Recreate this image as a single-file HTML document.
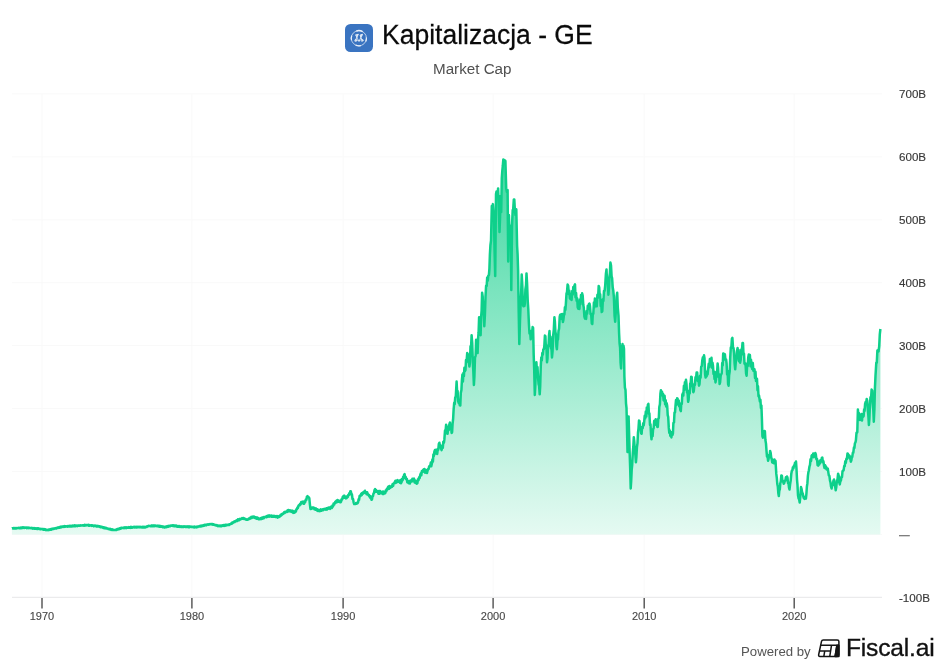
<!DOCTYPE html>
<html><head><meta charset="utf-8"><style>
html,body{margin:0;padding:0;background:#fff;width:945px;height:670px;overflow:hidden}
body{font-family:"Liberation Sans",sans-serif;position:relative}
.title{position:absolute;left:381.7px;top:17.6px;font-size:26.5px;transform:scaleY(1.045);transform-origin:0 26.2px;color:#0a0a0a;-webkit-text-stroke:0.25px #0a0a0a;white-space:nowrap;line-height:34px}
.sub{position:absolute;left:433px;top:59px;font-size:15.2px;color:#505050;white-space:nowrap;line-height:20px}
.logo{position:absolute;left:345.2px;top:23.6px;width:28px;height:28px;border-radius:5.5px;background:#3a74c1}
svg{position:absolute;left:0;top:0;will-change:transform}
.title,.sub,.pow,.fis{will-change:transform}
.pow{position:absolute;left:740.5px;top:642.6px;font-size:13.2px;color:#555;white-space:nowrap;line-height:18px}
.fis{position:absolute;left:845.8px;top:633.3px;font-size:24.6px;color:#111;white-space:nowrap;line-height:30px;letter-spacing:-0.2px;-webkit-text-stroke:0.35px #111}
</style></head><body>
<div class="logo"><svg width="28" height="28" viewBox="0 0 28 28" style="position:absolute;left:0;top:0">
<circle cx="13.85" cy="14.2" r="7.6" fill="none" stroke="#c9d9ee" stroke-width="0.9"/>
<path d="M11.25 7.06 A7.6 7.6 0 0 1 17.65 7.62" stroke="#e8eff8" stroke-width="1.4" fill="none"/><path d="M6.51 16.17 A7.6 7.6 0 0 1 6.71 11.60" stroke="#e8eff8" stroke-width="1.3" fill="none"/><path d="M21.42 13.54 A7.6 7.6 0 0 1 20.74 17.41" stroke="#e8eff8" stroke-width="1.2" fill="none"/><path d="M15.82 21.54 A7.6 7.6 0 0 1 10.64 21.09" stroke="#e8eff8" stroke-width="1.3" fill="none"/>
<g stroke="#e3ebf6" stroke-width="0.95" fill="none" stroke-linecap="round" stroke-linejoin="round">
<path d="M10.2 17.0 C11.2 15 12.2 12.5 13.2 10.3 M11.0 11.6 C12 13.5 12.8 15.5 13.8 17.2 M14.2 17.2 C15.2 15 16.2 12.5 17.3 10.3 M15.2 11.8 C16 13.5 16.6 15.2 17.4 16.9"/>
<path d="M10.9 10.9 L13.1 10.3 L12.3 12.2 Z M15.5 10.9 L17.3 10.3 L16.7 12.1 Z" fill="#e3ebf6"/>
<circle cx="10.9" cy="16.4" r="1.0"/><circle cx="17.0" cy="16.3" r="1.0"/>
</g>
</svg></div>
<div class="title">Kapitalizacja - GE</div>
<div class="sub">Market Cap</div>
<svg width="945" height="670" viewBox="0 0 945 670">
<defs><linearGradient id="g" x1="0" y1="160" x2="0" y2="534" gradientUnits="userSpaceOnUse">
<stop offset="0" stop-color="rgb(65,216,162)"/>
<stop offset="1" stop-color="rgb(229,250,242)"/>
</linearGradient></defs>
<line x1="42.0" x2="42.0" y1="94" y2="597" stroke="#f9f9f9" stroke-width="1"/><line x1="191.9" x2="191.9" y1="94" y2="597" stroke="#f9f9f9" stroke-width="1"/><line x1="343.1" x2="343.1" y1="94" y2="597" stroke="#f9f9f9" stroke-width="1"/><line x1="493.1" x2="493.1" y1="94" y2="597" stroke="#f9f9f9" stroke-width="1"/><line x1="644.2" x2="644.2" y1="94" y2="597" stroke="#f9f9f9" stroke-width="1"/><line x1="794.2" x2="794.2" y1="94" y2="597" stroke="#f9f9f9" stroke-width="1"/>
<line x1="12" x2="882" y1="93.9" y2="93.9" stroke="#f9f9f9" stroke-width="1"/><line x1="12" x2="882" y1="156.8" y2="156.8" stroke="#f9f9f9" stroke-width="1"/><line x1="12" x2="882" y1="219.8" y2="219.8" stroke="#f9f9f9" stroke-width="1"/><line x1="12" x2="882" y1="282.7" y2="282.7" stroke="#f9f9f9" stroke-width="1"/><line x1="12" x2="882" y1="345.6" y2="345.6" stroke="#f9f9f9" stroke-width="1"/><line x1="12" x2="882" y1="408.5" y2="408.5" stroke="#f9f9f9" stroke-width="1"/><line x1="12" x2="882" y1="471.5" y2="471.5" stroke="#f9f9f9" stroke-width="1"/><line x1="12" x2="882" y1="534.4" y2="534.4" stroke="#f9f9f9" stroke-width="1"/>
<line x1="12" x2="882" y1="597.3" y2="597.3" stroke="#e6e6e8" stroke-width="1"/>
<line x1="42.0" x2="42.0" y1="598" y2="608.5" stroke="#505050" stroke-width="1.4"/><line x1="191.9" x2="191.9" y1="598" y2="608.5" stroke="#505050" stroke-width="1.4"/><line x1="343.1" x2="343.1" y1="598" y2="608.5" stroke="#505050" stroke-width="1.4"/><line x1="493.1" x2="493.1" y1="598" y2="608.5" stroke="#505050" stroke-width="1.4"/><line x1="644.2" x2="644.2" y1="598" y2="608.5" stroke="#505050" stroke-width="1.4"/><line x1="794.2" x2="794.2" y1="598" y2="608.5" stroke="#505050" stroke-width="1.4"/>
<rect x="899" y="535.1" width="10.8" height="1.2" fill="#707070"/>
<path d="M11.9,528.4 L12.4,528.2 L12.9,528.5 L13.5,528.0 L14.0,528.4 L14.5,528.0 L15.0,528.4 L15.5,528.1 L16.1,528.4 L16.6,528.0 L17.1,528.3 L17.6,528.0 L18.1,528.1 L18.6,527.8 L19.2,528.3 L19.7,527.8 L20.2,528.1 L20.7,527.6 L21.2,528.3 L21.8,527.5 L22.3,528.0 L22.8,527.3 L23.3,527.8 L23.8,527.3 L24.4,527.9 L24.9,527.5 L25.4,527.6 L25.9,527.8 L26.4,527.5 L26.9,528.1 L27.4,527.6 L28.0,528.1 L28.5,527.6 L29.0,528.1 L29.5,527.7 L30.0,528.1 L30.5,527.9 L31.0,528.3 L31.5,527.8 L32.1,528.4 L32.6,528.0 L33.1,528.6 L33.6,528.1 L34.1,528.6 L34.6,528.1 L35.1,528.8 L35.6,528.3 L36.2,528.8 L36.7,528.3 L37.2,529.0 L37.7,528.4 L38.2,528.9 L38.7,528.4 L39.2,528.9 L39.7,528.7 L40.3,529.2 L40.8,528.8 L41.3,529.2 L41.8,529.0 L42.3,529.1 L42.8,529.5 L43.3,529.0 L43.8,529.7 L44.3,529.2 L44.8,529.8 L45.4,529.4 L45.9,530.1 L46.4,529.7 L46.9,530.2 L47.4,530.1 L47.9,529.7 L48.4,530.2 L48.9,529.5 L49.4,529.9 L49.9,529.4 L50.4,529.7 L50.9,529.0 L51.5,529.6 L52.0,528.7 L52.5,529.1 L53.0,528.6 L53.5,529.0 L54.0,528.5 L54.5,528.7 L55.0,528.2 L55.5,528.4 L56.0,528.0 L56.5,528.4 L57.0,527.8 L57.5,527.9 L58.0,527.4 L58.5,527.9 L59.1,527.3 L59.6,527.6 L60.1,526.9 L60.6,527.5 L61.1,526.6 L61.6,527.2 L62.1,526.5 L62.6,526.6 L63.1,526.8 L63.6,526.3 L64.1,526.9 L64.6,526.0 L65.2,526.6 L65.7,526.3 L66.2,526.6 L66.7,526.2 L67.2,526.6 L67.7,526.0 L68.2,526.5 L68.7,526.1 L69.2,526.5 L69.7,525.9 L70.2,526.5 L70.8,525.7 L71.3,526.5 L71.8,525.8 L72.3,526.4 L72.8,525.6 L73.3,526.1 L73.8,525.5 L74.3,526.3 L74.8,525.4 L75.4,526.3 L75.9,525.6 L76.4,526.0 L76.9,525.6 L77.4,526.1 L77.9,525.7 L78.4,525.5 L78.9,525.8 L79.5,525.4 L80.0,525.7 L80.5,525.3 L81.0,525.6 L81.5,525.4 L82.0,525.6 L82.6,525.3 L83.1,525.6 L83.6,525.2 L84.1,525.8 L84.6,524.9 L85.1,525.4 L85.7,525.0 L86.2,525.4 L86.7,524.9 L87.2,525.1 L87.7,525.3 L88.2,524.7 L88.7,525.8 L89.2,525.0 L89.7,525.6 L90.2,525.3 L90.7,525.6 L91.2,525.3 L91.7,525.8 L92.2,525.2 L92.7,525.8 L93.2,525.6 L93.7,526.2 L94.2,525.5 L94.7,526.0 L95.2,525.6 L95.7,526.1 L96.2,525.7 L96.7,526.5 L97.2,525.7 L97.7,526.5 L98.2,526.2 L98.7,526.1 L99.2,526.7 L99.7,526.4 L100.2,527.1 L100.7,526.5 L101.2,527.3 L101.7,526.9 L102.2,527.4 L102.7,527.0 L103.2,527.9 L103.7,527.2 L104.2,528.1 L104.7,527.5 L105.2,528.3 L105.7,527.9 L106.2,528.5 L106.7,528.1 L107.2,528.6 L107.7,528.5 L108.2,528.9 L108.7,528.7 L109.2,529.3 L109.7,528.7 L110.2,529.4 L110.7,529.0 L111.2,529.9 L111.7,529.6 L112.3,529.3 L112.8,530.0 L113.4,529.7 L114.0,530.1 L114.5,529.9 L115.1,530.1 L115.6,530.1 L116.1,529.5 L116.7,529.9 L117.2,529.1 L117.7,529.5 L118.2,528.8 L118.8,529.3 L119.3,528.6 L119.8,528.9 L120.3,528.0 L120.9,528.6 L121.4,527.7 L121.9,527.9 L122.4,528.1 L122.9,527.7 L123.4,528.2 L123.9,527.6 L124.4,528.1 L124.9,527.3 L125.4,527.9 L125.9,527.4 L126.4,528.1 L126.9,527.3 L127.4,527.7 L127.9,527.4 L128.4,527.7 L128.9,527.1 L129.4,527.8 L129.9,527.3 L130.4,527.8 L130.9,526.9 L131.4,527.7 L131.9,527.1 L132.4,527.6 L132.9,527.1 L133.4,527.3 L133.9,526.7 L134.4,527.5 L134.9,526.8 L135.4,527.1 L135.9,527.5 L136.4,526.8 L136.9,527.5 L137.4,526.7 L137.9,527.3 L138.5,526.9 L139.0,527.3 L139.5,526.9 L140.0,527.4 L140.5,526.9 L141.0,527.3 L141.5,527.0 L142.0,527.5 L142.5,526.9 L143.1,527.4 L143.6,526.8 L144.1,527.5 L144.6,526.9 L145.1,527.5 L145.6,527.1 L146.2,526.6 L146.7,527.0 L147.3,526.2 L147.9,526.4 L148.4,525.8 L149.0,525.9 L149.5,526.1 L150.0,525.8 L150.6,526.3 L151.1,525.7 L151.6,526.1 L152.1,525.4 L152.7,526.1 L153.2,525.5 L153.7,526.1 L154.2,525.4 L154.8,526.1 L155.3,525.6 L155.8,525.7 L156.3,526.1 L156.8,525.7 L157.4,526.1 L157.9,525.6 L158.4,526.4 L158.9,525.9 L159.5,526.6 L160.0,525.9 L160.5,526.7 L161.0,526.1 L161.5,526.8 L162.1,526.3 L162.6,527.1 L163.1,526.5 L163.6,527.2 L164.2,526.7 L164.7,527.5 L165.2,527.1 L165.7,526.6 L166.2,527.3 L166.8,526.3 L167.3,526.8 L167.8,526.1 L168.3,526.8 L168.9,525.8 L169.4,526.2 L169.9,525.8 L170.4,526.1 L171.0,525.5 L171.5,525.7 L172.0,525.4 L172.5,525.3 L173.0,525.9 L173.5,525.2 L174.0,526.2 L174.5,525.6 L175.0,526.2 L175.5,525.6 L176.0,526.2 L176.5,525.6 L177.0,526.6 L177.5,526.1 L178.0,526.8 L178.5,526.1 L179.0,526.8 L179.5,526.1 L180.0,527.0 L180.5,526.7 L181.0,526.5 L181.5,527.0 L182.0,526.4 L182.5,526.9 L183.0,526.5 L183.5,526.9 L184.0,526.3 L184.5,526.8 L185.0,526.4 L185.6,527.0 L186.1,526.6 L186.6,526.9 L187.1,526.4 L187.6,527.0 L188.1,526.6 L188.6,527.2 L189.1,526.3 L189.6,527.2 L190.1,526.6 L190.6,526.7 L191.1,526.9 L191.6,526.7 L192.1,527.2 L192.6,526.7 L193.1,527.0 L193.7,526.7 L194.2,527.4 L194.7,526.6 L195.2,527.2 L195.7,527.1 L196.2,526.8 L196.7,527.3 L197.2,526.5 L197.7,527.0 L198.2,526.4 L198.8,526.6 L199.3,526.0 L199.8,526.5 L200.3,526.0 L200.8,526.5 L201.3,525.5 L201.8,526.2 L202.3,525.5 L202.8,526.0 L203.3,525.3 L203.9,525.8 L204.4,524.9 L204.9,525.4 L205.4,524.7 L205.9,524.9 L206.4,525.3 L206.9,524.5 L207.4,524.8 L207.9,524.2 L208.4,524.7 L209.0,524.2 L209.5,524.4 L210.0,524.0 L210.5,524.3 L211.0,524.0 L211.5,523.9 L212.1,524.5 L212.6,524.0 L213.1,524.8 L213.6,524.3 L214.2,525.0 L214.7,524.7 L215.2,525.2 L215.7,525.0 L216.2,525.4 L216.8,525.0 L217.3,525.9 L217.8,525.5 L218.3,526.1 L218.9,525.5 L219.4,526.1 L219.9,526.2 L220.4,525.5 L220.9,526.1 L221.4,525.5 L221.9,526.1 L222.5,525.4 L223.0,525.8 L223.5,525.1 L224.0,525.9 L224.5,525.1 L225.0,525.7 L225.5,524.7 L226.0,525.4 L226.5,524.7 L227.1,525.2 L227.6,524.7 L228.1,524.9 L228.6,524.5 L229.1,525.0 L229.6,524.5 L230.1,524.0 L230.6,524.1 L231.2,523.4 L231.7,523.8 L232.2,522.5 L232.7,523.1 L233.3,522.1 L233.8,522.3 L234.3,521.5 L234.8,521.9 L235.4,521.0 L235.9,521.3 L236.4,520.6 L236.9,520.1 L237.4,520.9 L237.9,519.4 L238.5,520.3 L239.0,519.4 L239.5,520.1 L240.0,518.9 L240.5,519.4 L241.0,518.7 L241.6,519.0 L242.1,518.1 L242.6,518.7 L243.1,518.1 L243.6,518.1 L244.2,519.0 L244.7,518.6 L245.2,519.2 L245.8,519.0 L246.3,519.7 L246.9,519.4 L247.4,519.8 L247.9,519.7 L248.4,518.9 L248.9,519.2 L249.4,518.2 L249.9,518.8 L250.4,517.5 L250.9,518.3 L251.4,516.9 L251.9,517.9 L252.4,516.9 L252.9,516.6 L253.4,517.5 L253.9,516.6 L254.4,517.7 L254.9,517.0 L255.4,518.2 L255.9,517.7 L256.5,518.6 L257.0,517.4 L257.5,518.7 L258.0,517.8 L258.5,519.1 L259.0,518.4 L259.5,519.2 L260.0,518.9 L260.5,518.3 L261.0,519.2 L261.5,517.8 L262.0,518.8 L262.5,517.5 L263.0,518.5 L263.5,517.1 L264.0,518.1 L264.5,517.0 L265.0,517.3 L265.5,516.7 L266.0,517.2 L266.5,516.4 L267.0,517.1 L267.5,515.7 L268.0,516.6 L268.5,515.9 L269.0,515.4 L269.5,516.6 L270.0,515.6 L270.5,516.3 L271.1,515.5 L271.6,516.8 L272.1,515.8 L272.6,516.8 L273.1,515.8 L273.6,516.6 L274.1,515.8 L274.6,516.8 L275.1,516.3 L275.6,516.9 L276.1,516.0 L276.7,517.0 L277.2,516.1 L277.7,517.6 L278.2,516.4 L278.7,516.9 L279.2,516.9 L279.7,515.7 L280.2,516.3 L280.7,514.7 L281.2,515.5 L281.8,514.0 L282.3,514.4 L282.8,513.5 L283.3,513.7 L283.8,513.0 L284.3,512.0 L284.8,512.9 L285.3,511.7 L285.8,512.2 L286.3,511.5 L286.8,511.9 L287.3,510.6 L287.8,511.7 L288.3,510.0 L288.8,510.5 L289.3,511.1 L289.8,510.3 L290.3,511.5 L290.8,510.6 L291.3,511.6 L291.8,510.7 L292.3,512.0 L292.8,510.9 L293.3,512.9 L293.8,512.0 L294.3,512.8 L294.8,512.5 L295.3,510.8 L295.9,511.6 L296.4,509.2 L296.9,509.2 L297.4,507.5 L297.9,508.0 L298.5,505.6 L299.0,505.1 L299.6,505.3 L300.1,503.7 L300.7,504.3 L301.3,501.9 L301.8,502.9 L302.4,502.0 L303.0,501.5 L303.5,503.8 L304.1,503.7 L304.7,501.3 L305.2,502.1 L305.8,499.4 L306.4,499.8 L306.9,496.6 L307.5,496.1 L308.1,497.1 L308.7,497.2 L309.3,498.1 L309.9,504.3 L310.5,509.1 L311.1,508.1 L311.6,508.7 L312.1,507.5 L312.7,507.4 L313.2,508.2 L313.8,507.6 L314.3,509.2 L314.8,508.4 L315.4,509.7 L315.9,508.4 L316.5,509.9 L317.0,509.0 L317.5,510.9 L318.1,509.6 L318.6,510.8 L319.2,511.1 L319.7,510.1 L320.3,510.9 L320.9,509.3 L321.4,510.8 L322.0,510.0 L322.6,509.3 L323.1,510.1 L323.7,509.0 L324.3,509.4 L324.8,508.7 L325.4,508.8 L325.9,509.6 L326.5,508.2 L327.0,509.5 L327.5,508.0 L328.1,508.7 L328.6,507.6 L329.2,508.5 L329.7,507.5 L330.2,508.9 L330.8,506.9 L331.3,507.7 L331.9,507.9 L332.4,505.4 L333.0,506.5 L333.6,503.6 L334.1,504.7 L334.7,503.2 L335.3,501.8 L335.8,502.6 L336.4,500.9 L337.0,502.2 L337.5,500.0 L338.1,500.6 L338.6,501.8 L339.1,500.8 L339.6,501.9 L340.1,500.8 L340.6,502.3 L341.1,501.5 L341.6,499.2 L342.2,499.4 L342.7,497.0 L343.2,496.4 L343.8,497.8 L344.3,495.6 L344.9,497.8 L345.5,496.6 L346.0,498.4 L346.6,498.1 L347.1,496.4 L347.7,497.1 L348.2,495.1 L348.7,495.2 L349.2,493.3 L349.8,494.4 L350.3,491.3 L350.8,491.3 L351.4,494.0 L351.9,494.2 L352.5,499.0 L353.1,499.1 L353.6,502.3 L354.2,504.0 L354.8,503.5 L355.3,504.0 L355.9,503.0 L356.5,503.8 L357.0,502.9 L357.6,503.2 L358.1,502.2 L358.6,499.3 L359.1,499.8 L359.6,496.0 L360.1,495.6 L360.6,495.9 L361.2,493.9 L361.7,495.1 L362.2,493.0 L362.7,493.9 L363.2,492.4 L363.8,492.9 L364.3,491.8 L364.9,490.7 L365.4,492.9 L366.0,492.0 L366.6,494.2 L367.1,492.2 L367.7,493.9 L368.2,495.1 L368.8,494.7 L369.3,496.5 L369.9,495.9 L370.4,498.0 L370.9,496.7 L371.5,499.8 L372.0,499.3 L372.5,496.3 L373.0,495.9 L373.5,493.5 L374.0,493.1 L374.5,490.1 L375.1,489.0 L375.6,491.7 L376.2,490.1 L376.8,491.8 L377.3,491.1 L377.9,492.2 L378.4,493.7 L378.9,491.0 L379.5,493.7 L380.0,491.0 L380.5,493.1 L381.0,492.1 L381.6,493.1 L382.1,491.8 L382.6,493.9 L383.1,491.4 L383.7,494.0 L384.2,491.9 L384.7,493.0 L385.2,493.2 L385.8,490.2 L386.4,491.1 L386.9,488.7 L387.4,489.4 L388.0,487.1 L388.6,486.5 L389.1,488.7 L389.7,485.9 L390.3,487.8 L390.8,486.6 L391.4,487.1 L392.0,486.9 L392.5,484.2 L393.1,485.9 L393.7,483.2 L394.2,483.3 L394.8,482.0 L395.4,480.7 L395.9,482.9 L396.5,480.7 L397.1,482.2 L397.6,480.1 L398.2,481.2 L398.8,481.7 L399.3,480.7 L399.9,482.6 L400.5,480.0 L401.0,483.2 L401.6,482.0 L402.1,478.9 L402.6,480.3 L403.1,477.0 L403.6,477.1 L404.1,474.9 L404.6,474.0 L405.2,478.4 L405.7,477.0 L406.2,479.3 L406.8,478.8 L407.3,482.3 L407.9,480.9 L408.4,482.9 L408.9,483.3 L409.4,480.9 L409.9,483.6 L410.4,480.8 L410.9,481.6 L411.4,480.0 L411.9,481.5 L412.4,478.8 L412.9,480.5 L413.4,479.5 L414.0,478.6 L414.5,482.4 L415.1,480.5 L415.7,483.0 L416.2,481.3 L416.8,483.7 L417.4,483.1 L417.9,479.3 L418.5,480.2 L419.1,477.3 L419.6,478.2 L420.2,475.2 L420.8,473.3 L421.3,475.2 L421.9,471.0 L422.4,472.0 L423.0,470.3 L423.5,469.6 L424.0,471.6 L424.5,469.0 L425.0,472.7 L425.5,470.0 L426.0,471.9 L426.5,470.1 L427.0,473.0 L427.5,471.0 L428.1,469.0 L428.6,468.9 L429.1,466.5 L429.7,465.8 L430.2,466.4 L430.8,462.6 L431.3,466.3 L431.9,463.6 L432.4,459.4 L432.9,461.6 L433.4,454.4 L433.9,455.8 L434.4,451.4 L434.9,450.1 L435.5,453.6 L436.0,449.8 L436.6,453.6 L437.2,453.9 L437.8,449.1 L438.3,449.7 L438.8,444.1 L439.4,442.7 L439.9,445.9 L440.5,445.4 L441.1,448.8 L441.6,450.1 L442.2,447.1 L442.8,447.8 L443.3,441.7 L443.9,442.7 L444.4,439.2 L445.0,430.6 L445.6,430.5 L446.1,424.8 L446.6,426.1 L447.1,433.6 L447.6,433.7 L448.2,428.0 L448.8,430.0 L449.3,424.5 L449.9,422.5 L450.4,427.0 L451.0,425.6 L451.6,432.9 L452.1,432.2 L452.6,423.5 L453.1,419.2 L453.6,409.9 L454.2,402.8 L454.7,404.1 L455.2,397.5 L455.8,396.4 L456.6,381.5 L457.1,391.9 L457.6,390.8 L458.1,400.9 L458.7,403.0 L459.2,402.2 L459.8,405.3 L460.3,405.4 L460.8,392.9 L461.4,390.3 L461.9,380.0 L462.4,374.6 L462.9,381.6 L463.4,373.1 L463.9,376.1 L464.4,367.7 L464.9,371.0 L465.5,370.0 L466.0,360.0 L466.6,361.4 L467.2,353.1 L467.8,354.2 L468.3,362.0 L468.8,362.2 L469.4,366.6 L469.9,362.8 L470.5,346.2 L471.1,346.6 L471.6,335.2 L472.2,342.9 L472.8,361.2 L473.3,370.6 L473.9,385.0 L474.4,376.6 L475.0,357.5 L475.6,355.8 L476.1,339.7 L476.6,341.6 L477.1,350.6 L477.6,353.1 L478.1,338.4 L478.6,332.2 L479.1,317.3 L479.6,318.6 L480.1,331.0 L480.6,335.2 L481.1,316.8 L481.6,310.8 L482.1,292.7 L482.7,296.8 L483.2,313.6 L483.8,314.5 L484.3,326.3 L484.9,315.1 L485.5,297.0 L486.1,285.7 L486.7,286.0 L487.2,277.4 L487.8,280.7 L488.3,275.5 L488.9,275.2 L489.4,268.8 L489.9,254.3 L490.4,245.5 L491.0,240.7 L491.8,206.0 L492.4,206.3 L492.9,204.1 L493.4,211.9 L494.0,222.0 L494.6,252.2 L495.2,276.0 L496.0,194.0 L496.5,191.5 L497.0,193.7 L497.6,196.0 L498.1,188.4 L498.8,205.7 L499.5,232.0 L500.0,219.0 L500.5,196.0 L501.2,212.0 L501.8,178.0 L502.3,170.9 L502.8,166.0 L503.3,159.5 L503.8,159.9 L504.4,160.3 L504.9,160.5 L505.4,161.0 L506.2,188.4 L506.9,192.0 L507.6,190.0 L508.2,261.6 L508.9,215.0 L509.3,226.0 L509.8,227.6 L510.3,233.0 L510.8,226.0 L511.3,290.0 L512.0,226.0 L512.7,210.0 L513.2,209.1 L513.8,199.5 L514.3,199.4 L514.9,210.9 L515.5,215.0 L516.3,209.3 L517.1,245.9 L517.6,254.5 L518.1,271.0 L518.7,311.9 L519.3,344.0 L520.0,320.8 L520.6,305.0 L521.2,291.3 L521.7,274.6 L522.3,285.1 L522.9,304.4 L523.4,306.3 L523.9,300.6 L524.4,306.1 L524.9,303.3 L525.4,289.4 L526.0,285.2 L526.5,273.4 L527.1,283.9 L527.7,300.4 L528.3,309.4 L528.9,323.5 L529.5,333.3 L530.1,330.7 L530.7,339.3 L531.5,333.0 L532.0,333.6 L532.6,327.0 L533.1,327.9 L533.7,355.2 L534.2,369.6 L534.8,395.0 L535.3,385.9 L535.9,369.0 L536.4,362.3 L536.9,370.8 L537.5,367.1 L538.0,377.0 L538.6,384.1 L539.1,385.9 L539.7,394.3 L540.2,386.1 L540.8,365.3 L541.3,357.4 L541.8,360.4 L542.3,353.0 L542.8,354.7 L543.3,349.4 L543.8,349.2 L544.3,346.6 L544.9,335.6 L545.4,336.1 L545.9,348.2 L546.5,348.8 L547.0,362.3 L547.5,358.5 L548.0,345.4 L548.5,346.4 L549.0,335.3 L549.5,331.1 L550.0,340.5 L550.5,336.8 L551.0,348.3 L551.5,348.8 L552.0,357.4 L552.6,350.8 L553.2,335.4 L553.8,329.7 L554.4,317.2 L554.9,322.0 L555.4,331.8 L555.9,334.4 L556.4,346.2 L556.9,349.2 L557.5,339.9 L558.0,339.5 L558.5,331.0 L559.1,328.6 L559.7,316.8 L560.2,314.8 L560.7,317.4 L561.3,314.2 L561.8,319.1 L562.3,313.9 L562.9,322.1 L563.4,319.7 L563.9,315.2 L564.4,314.5 L564.9,307.3 L565.4,309.8 L565.9,303.3 L566.5,293.5 L567.0,292.2 L567.6,284.6 L568.2,285.8 L568.8,294.2 L569.3,290.7 L569.9,298.3 L570.5,299.1 L571.1,294.9 L571.6,300.0 L572.2,291.0 L572.7,294.6 L573.3,287.0 L573.8,290.1 L574.4,285.5 L575.0,284.4 L575.5,297.1 L576.1,293.0 L576.6,300.6 L577.2,298.2 L577.7,307.3 L578.3,308.8 L578.8,305.6 L579.4,309.0 L579.9,299.5 L580.5,304.2 L581.0,295.1 L581.6,300.0 L582.1,293.3 L582.7,295.5 L583.3,305.0 L583.8,307.4 L584.4,316.7 L585.0,318.5 L585.6,312.9 L586.1,319.0 L586.7,310.9 L587.2,313.7 L587.8,305.7 L588.3,309.1 L588.9,304.0 L589.5,303.6 L590.0,306.3 L590.6,314.1 L591.2,314.6 L591.8,323.4 L592.3,324.0 L592.8,313.7 L593.3,313.9 L593.9,302.6 L594.4,307.5 L594.9,298.5 L595.5,299.3 L596.2,305.2 L596.8,306.3 L597.4,294.7 L598.1,297.6 L598.7,285.9 L599.2,287.3 L599.7,295.8 L600.2,294.3 L600.7,305.9 L601.2,303.1 L601.7,312.1 L602.3,311.3 L602.9,299.3 L603.4,301.0 L604.0,290.9 L604.6,290.8 L605.2,285.6 L605.9,273.9 L606.5,269.4 L607.1,282.2 L607.8,281.9 L608.4,294.7 L608.9,288.4 L609.4,276.8 L609.9,273.2 L610.4,262.6 L611.0,265.2 L611.6,276.4 L612.1,278.0 L612.7,287.1 L613.3,290.8 L613.9,297.2 L614.6,316.1 L615.2,321.8 L615.7,313.4 L616.2,310.5 L616.7,295.9 L617.2,292.7 L617.8,307.5 L618.5,315.5 L619.1,333.5 L619.6,343.7 L620.1,347.6 L620.6,362.9 L621.1,368.4 L622.0,347.1 L622.5,344.1 L623.0,350.3 L623.5,345.8 L624.0,349.0 L624.4,376.7 L624.9,387.7 L625.5,389.9 L626.0,403.3 L626.5,408.0 L627.0,428.1 L627.5,451.9 L628.0,435.9 L628.6,416.4 L629.1,433.7 L629.7,454.3 L630.2,469.1 L630.7,488.4 L631.2,480.6 L631.7,469.6 L632.2,464.8 L632.8,452.8 L633.3,446.7 L633.8,437.2 L634.3,441.8 L634.8,450.5 L635.4,455.2 L635.9,462.3 L636.4,456.8 L636.9,447.6 L637.5,443.1 L638.0,432.5 L638.5,428.3 L639.0,420.5 L639.5,421.1 L640.0,427.7 L640.6,427.2 L641.1,433.0 L641.6,433.8 L642.1,427.1 L642.7,428.1 L643.2,423.3 L643.7,425.3 L644.2,421.6 L644.7,415.8 L645.2,418.3 L645.8,411.5 L646.3,416.6 L646.8,407.4 L647.4,411.7 L647.9,404.6 L648.4,403.8 L648.9,413.6 L649.4,413.4 L650.0,425.0 L650.5,424.3 L651.0,434.5 L651.5,439.3 L652.0,433.5 L652.6,436.1 L653.1,429.0 L653.6,428.4 L654.2,420.8 L654.7,420.5 L655.2,422.7 L655.7,419.3 L656.2,425.1 L656.8,421.7 L657.3,426.9 L657.8,426.8 L658.3,418.5 L658.8,418.2 L659.3,407.1 L659.9,404.2 L660.4,393.7 L660.9,390.3 L661.4,393.6 L662.0,391.7 L662.5,395.5 L663.0,393.7 L663.6,400.5 L664.1,397.6 L664.6,395.8 L665.1,404.3 L665.7,400.3 L666.2,406.6 L666.7,403.3 L667.2,405.9 L667.7,415.1 L668.2,416.8 L668.8,427.9 L669.3,433.0 L669.8,430.4 L670.3,435.8 L670.8,431.9 L671.4,437.4 L671.9,433.9 L672.4,435.2 L672.9,433.7 L673.4,423.0 L674.0,422.4 L674.5,412.5 L675.0,412.4 L675.5,405.9 L676.0,400.0 L676.5,405.0 L677.1,398.3 L677.6,398.6 L678.1,404.1 L678.7,400.4 L679.2,406.3 L679.7,403.7 L680.3,410.0 L680.8,411.1 L681.3,403.2 L681.8,403.9 L682.3,394.7 L682.8,393.4 L683.3,395.6 L683.9,385.8 L684.4,390.0 L684.9,382.2 L685.5,383.0 L686.0,379.8 L686.5,384.2 L687.0,392.3 L687.6,393.3 L688.1,401.8 L688.6,400.0 L689.1,390.7 L689.7,393.5 L690.2,383.6 L690.7,382.7 L691.2,376.7 L691.7,377.1 L692.2,385.5 L692.8,387.4 L693.3,392.2 L693.8,391.1 L694.4,384.3 L695.0,384.7 L695.5,377.2 L696.0,379.1 L696.6,372.5 L697.2,372.4 L697.8,380.9 L698.4,379.0 L699.0,385.7 L699.5,384.2 L700.1,375.7 L700.6,377.7 L701.2,366.7 L701.8,366.0 L702.3,360.2 L702.9,357.2 L703.4,360.5 L704.0,355.3 L704.5,358.2 L705.1,374.2 L705.6,377.5 L706.1,373.3 L706.6,376.3 L707.1,371.5 L707.6,374.5 L708.1,369.3 L708.7,363.8 L709.3,367.2 L709.9,358.9 L710.5,360.2 L711.0,364.1 L711.5,357.8 L712.0,367.6 L712.5,362.8 L713.0,366.0 L713.5,373.9 L714.0,371.4 L714.5,379.0 L715.0,376.6 L715.5,382.4 L716.0,379.6 L716.5,371.7 L717.1,372.3 L717.6,363.5 L718.1,367.6 L718.6,377.0 L719.1,374.2 L719.6,384.0 L720.1,382.3 L720.7,375.7 L721.2,374.2 L721.7,373.5 L722.2,363.0 L722.7,365.5 L723.2,353.5 L723.7,353.7 L724.3,356.8 L724.9,354.3 L725.5,360.2 L726.1,359.4 L726.6,363.5 L727.1,374.5 L727.6,371.0 L728.1,384.2 L728.6,385.7 L729.1,375.4 L729.7,371.5 L730.2,357.8 L730.8,347.5 L731.3,348.1 L731.9,338.9 L732.4,337.9 L733.0,347.7 L733.5,347.9 L734.1,353.1 L734.6,363.6 L735.2,369.3 L735.8,362.0 L736.4,359.8 L737.0,350.9 L737.6,347.9 L738.1,354.9 L738.6,350.0 L739.1,361.2 L739.6,355.9 L740.1,362.7 L740.7,359.8 L741.3,349.6 L741.9,350.7 L742.5,343.0 L743.0,343.1 L743.5,354.6 L744.0,353.7 L744.5,363.6 L745.0,364.3 L745.5,363.3 L746.1,373.8 L746.6,375.8 L747.1,366.0 L747.7,366.2 L748.2,357.8 L748.8,354.5 L749.4,358.7 L749.9,355.1 L750.5,366.2 L751.0,359.7 L751.6,366.0 L752.2,369.1 L752.8,363.1 L753.4,370.8 L754.0,369.3 L754.5,369.3 L755.0,377.9 L755.5,371.7 L756.0,380.9 L756.5,379.1 L757.0,378.9 L757.5,390.3 L758.0,386.3 L758.5,396.1 L759.0,395.5 L759.9,401.6 L760.4,399.7 L760.9,407.8 L761.4,405.4 L761.9,418.7 L762.4,436.1 L762.9,437.6 L763.4,432.0 L763.9,434.6 L764.4,431.0 L764.9,431.2 L765.4,440.0 L766.0,443.6 L766.5,450.9 L767.0,456.7 L767.6,456.7 L768.1,460.8 L768.6,458.9 L769.1,455.1 L769.6,455.9 L770.1,450.9 L770.6,452.5 L771.2,457.5 L771.7,459.0 L772.2,462.4 L772.8,462.7 L773.3,460.0 L773.9,463.3 L774.4,459.5 L775.0,463.0 L775.5,460.8 L776.3,473.9 L776.8,477.9 L777.3,484.0 L777.8,486.4 L778.3,493.0 L778.8,496.1 L779.3,490.7 L779.8,489.4 L780.3,483.3 L780.8,481.3 L781.3,475.5 L781.9,475.7 L782.5,481.4 L783.1,481.1 L783.7,483.7 L784.2,483.1 L784.8,480.7 L785.4,480.5 L785.9,477.2 L786.5,479.3 L787.0,476.4 L787.5,477.7 L788.0,483.2 L788.5,483.0 L789.0,487.6 L789.5,489.5 L790.1,484.3 L790.7,480.6 L791.3,473.7 L791.9,470.6 L792.4,470.3 L792.9,467.3 L793.4,468.4 L794.0,465.6 L794.5,465.9 L795.0,462.8 L795.5,464.6 L796.0,461.6 L796.5,468.9 L797.0,479.3 L797.5,485.2 L798.0,495.2 L798.6,498.5 L799.1,499.0 L799.7,502.6 L800.4,495.8 L801.0,487.0 L801.6,489.1 L802.2,492.8 L802.8,493.6 L803.4,496.9 L803.9,498.3 L804.4,496.9 L804.9,498.9 L805.4,497.3 L805.9,498.5 L806.4,493.8 L806.9,486.5 L807.4,483.2 L807.9,475.8 L808.4,472.2 L808.9,470.2 L809.5,466.3 L810.0,464.8 L810.5,459.3 L811.1,461.0 L811.6,455.8 L812.1,455.1 L812.6,456.9 L813.2,453.6 L813.7,457.2 L814.2,453.9 L814.8,456.2 L815.3,453.1 L815.8,454.2 L816.4,459.3 L817.0,458.9 L817.6,465.1 L818.2,465.7 L818.7,463.7 L819.2,464.5 L819.7,460.8 L820.2,463.0 L820.8,459.9 L821.3,461.3 L821.8,457.9 L822.3,457.5 L822.9,462.3 L823.4,461.2 L824.0,465.7 L824.5,468.1 L825.1,465.2 L825.6,468.4 L826.1,466.7 L826.7,469.6 L827.2,469.0 L827.8,468.6 L828.3,472.1 L828.8,475.4 L829.4,475.8 L830.0,480.7 L830.5,482.4 L831.0,486.5 L831.6,488.5 L832.2,484.7 L832.8,485.1 L833.4,480.8 L834.0,479.5 L834.6,484.7 L835.1,486.0 L835.7,490.2 L836.3,487.0 L836.9,480.8 L837.5,479.4 L838.1,473.7 L838.7,475.7 L839.2,482.2 L839.8,484.4 L840.3,481.2 L840.9,480.6 L841.5,476.8 L842.0,476.9 L842.5,471.3 L843.1,470.5 L843.6,470.4 L844.2,466.1 L844.7,466.3 L845.3,461.2 L845.8,462.9 L846.4,458.8 L846.9,459.1 L847.5,453.5 L848.0,454.0 L848.5,456.1 L849.1,455.3 L849.6,458.4 L850.2,456.5 L850.8,461.7 L851.3,460.6 L851.8,457.5 L852.3,456.9 L852.8,452.8 L853.3,452.8 L853.9,447.6 L854.4,448.0 L854.9,443.4 L855.4,442.5 L855.9,440.3 L856.5,432.8 L857.0,432.7 L857.3,432.0 L857.9,409.5 L858.4,414.8 L858.9,412.9 L859.4,419.9 L859.9,418.5 L860.4,417.2 L861.0,419.9 L861.5,414.0 L862.0,420.6 L862.6,414.2 L863.1,416.9 L863.6,416.1 L864.1,409.6 L864.6,410.9 L865.1,403.9 L865.6,402.1 L866.1,403.1 L866.7,398.9 L867.2,400.5 L867.8,409.6 L868.3,414.9 L868.9,425.0 L869.4,418.9 L870.0,403.4 L870.5,397.2 L871.1,397.7 L871.6,389.6 L872.2,390.6 L872.7,403.4 L873.3,410.2 L873.8,421.8 L874.4,409.3 L874.9,388.8 L875.5,375.8 L876.3,362.7 L876.8,362.8 L877.4,350.4 L877.9,351.2 L878.5,351.5 L879.2,346.3 L879.8,334.4 L880.4,329.0 L880.4,534.4 L11.9,534.4 Z" fill="url(#g)"/>
<path d="M11.9,528.4 L12.4,528.2 L12.9,528.5 L13.5,528.0 L14.0,528.4 L14.5,528.0 L15.0,528.4 L15.5,528.1 L16.1,528.4 L16.6,528.0 L17.1,528.3 L17.6,528.0 L18.1,528.1 L18.6,527.8 L19.2,528.3 L19.7,527.8 L20.2,528.1 L20.7,527.6 L21.2,528.3 L21.8,527.5 L22.3,528.0 L22.8,527.3 L23.3,527.8 L23.8,527.3 L24.4,527.9 L24.9,527.5 L25.4,527.6 L25.9,527.8 L26.4,527.5 L26.9,528.1 L27.4,527.6 L28.0,528.1 L28.5,527.6 L29.0,528.1 L29.5,527.7 L30.0,528.1 L30.5,527.9 L31.0,528.3 L31.5,527.8 L32.1,528.4 L32.6,528.0 L33.1,528.6 L33.6,528.1 L34.1,528.6 L34.6,528.1 L35.1,528.8 L35.6,528.3 L36.2,528.8 L36.7,528.3 L37.2,529.0 L37.7,528.4 L38.2,528.9 L38.7,528.4 L39.2,528.9 L39.7,528.7 L40.3,529.2 L40.8,528.8 L41.3,529.2 L41.8,529.0 L42.3,529.1 L42.8,529.5 L43.3,529.0 L43.8,529.7 L44.3,529.2 L44.8,529.8 L45.4,529.4 L45.9,530.1 L46.4,529.7 L46.9,530.2 L47.4,530.1 L47.9,529.7 L48.4,530.2 L48.9,529.5 L49.4,529.9 L49.9,529.4 L50.4,529.7 L50.9,529.0 L51.5,529.6 L52.0,528.7 L52.5,529.1 L53.0,528.6 L53.5,529.0 L54.0,528.5 L54.5,528.7 L55.0,528.2 L55.5,528.4 L56.0,528.0 L56.5,528.4 L57.0,527.8 L57.5,527.9 L58.0,527.4 L58.5,527.9 L59.1,527.3 L59.6,527.6 L60.1,526.9 L60.6,527.5 L61.1,526.6 L61.6,527.2 L62.1,526.5 L62.6,526.6 L63.1,526.8 L63.6,526.3 L64.1,526.9 L64.6,526.0 L65.2,526.6 L65.7,526.3 L66.2,526.6 L66.7,526.2 L67.2,526.6 L67.7,526.0 L68.2,526.5 L68.7,526.1 L69.2,526.5 L69.7,525.9 L70.2,526.5 L70.8,525.7 L71.3,526.5 L71.8,525.8 L72.3,526.4 L72.8,525.6 L73.3,526.1 L73.8,525.5 L74.3,526.3 L74.8,525.4 L75.4,526.3 L75.9,525.6 L76.4,526.0 L76.9,525.6 L77.4,526.1 L77.9,525.7 L78.4,525.5 L78.9,525.8 L79.5,525.4 L80.0,525.7 L80.5,525.3 L81.0,525.6 L81.5,525.4 L82.0,525.6 L82.6,525.3 L83.1,525.6 L83.6,525.2 L84.1,525.8 L84.6,524.9 L85.1,525.4 L85.7,525.0 L86.2,525.4 L86.7,524.9 L87.2,525.1 L87.7,525.3 L88.2,524.7 L88.7,525.8 L89.2,525.0 L89.7,525.6 L90.2,525.3 L90.7,525.6 L91.2,525.3 L91.7,525.8 L92.2,525.2 L92.7,525.8 L93.2,525.6 L93.7,526.2 L94.2,525.5 L94.7,526.0 L95.2,525.6 L95.7,526.1 L96.2,525.7 L96.7,526.5 L97.2,525.7 L97.7,526.5 L98.2,526.2 L98.7,526.1 L99.2,526.7 L99.7,526.4 L100.2,527.1 L100.7,526.5 L101.2,527.3 L101.7,526.9 L102.2,527.4 L102.7,527.0 L103.2,527.9 L103.7,527.2 L104.2,528.1 L104.7,527.5 L105.2,528.3 L105.7,527.9 L106.2,528.5 L106.7,528.1 L107.2,528.6 L107.7,528.5 L108.2,528.9 L108.7,528.7 L109.2,529.3 L109.7,528.7 L110.2,529.4 L110.7,529.0 L111.2,529.9 L111.7,529.6 L112.3,529.3 L112.8,530.0 L113.4,529.7 L114.0,530.1 L114.5,529.9 L115.1,530.1 L115.6,530.1 L116.1,529.5 L116.7,529.9 L117.2,529.1 L117.7,529.5 L118.2,528.8 L118.8,529.3 L119.3,528.6 L119.8,528.9 L120.3,528.0 L120.9,528.6 L121.4,527.7 L121.9,527.9 L122.4,528.1 L122.9,527.7 L123.4,528.2 L123.9,527.6 L124.4,528.1 L124.9,527.3 L125.4,527.9 L125.9,527.4 L126.4,528.1 L126.9,527.3 L127.4,527.7 L127.9,527.4 L128.4,527.7 L128.9,527.1 L129.4,527.8 L129.9,527.3 L130.4,527.8 L130.9,526.9 L131.4,527.7 L131.9,527.1 L132.4,527.6 L132.9,527.1 L133.4,527.3 L133.9,526.7 L134.4,527.5 L134.9,526.8 L135.4,527.1 L135.9,527.5 L136.4,526.8 L136.9,527.5 L137.4,526.7 L137.9,527.3 L138.5,526.9 L139.0,527.3 L139.5,526.9 L140.0,527.4 L140.5,526.9 L141.0,527.3 L141.5,527.0 L142.0,527.5 L142.5,526.9 L143.1,527.4 L143.6,526.8 L144.1,527.5 L144.6,526.9 L145.1,527.5 L145.6,527.1 L146.2,526.6 L146.7,527.0 L147.3,526.2 L147.9,526.4 L148.4,525.8 L149.0,525.9 L149.5,526.1 L150.0,525.8 L150.6,526.3 L151.1,525.7 L151.6,526.1 L152.1,525.4 L152.7,526.1 L153.2,525.5 L153.7,526.1 L154.2,525.4 L154.8,526.1 L155.3,525.6 L155.8,525.7 L156.3,526.1 L156.8,525.7 L157.4,526.1 L157.9,525.6 L158.4,526.4 L158.9,525.9 L159.5,526.6 L160.0,525.9 L160.5,526.7 L161.0,526.1 L161.5,526.8 L162.1,526.3 L162.6,527.1 L163.1,526.5 L163.6,527.2 L164.2,526.7 L164.7,527.5 L165.2,527.1 L165.7,526.6 L166.2,527.3 L166.8,526.3 L167.3,526.8 L167.8,526.1 L168.3,526.8 L168.9,525.8 L169.4,526.2 L169.9,525.8 L170.4,526.1 L171.0,525.5 L171.5,525.7 L172.0,525.4 L172.5,525.3 L173.0,525.9 L173.5,525.2 L174.0,526.2 L174.5,525.6 L175.0,526.2 L175.5,525.6 L176.0,526.2 L176.5,525.6 L177.0,526.6 L177.5,526.1 L178.0,526.8 L178.5,526.1 L179.0,526.8 L179.5,526.1 L180.0,527.0 L180.5,526.7 L181.0,526.5 L181.5,527.0 L182.0,526.4 L182.5,526.9 L183.0,526.5 L183.5,526.9 L184.0,526.3 L184.5,526.8 L185.0,526.4 L185.6,527.0 L186.1,526.6 L186.6,526.9 L187.1,526.4 L187.6,527.0 L188.1,526.6 L188.6,527.2 L189.1,526.3 L189.6,527.2 L190.1,526.6 L190.6,526.7 L191.1,526.9 L191.6,526.7 L192.1,527.2 L192.6,526.7 L193.1,527.0 L193.7,526.7 L194.2,527.4 L194.7,526.6 L195.2,527.2 L195.7,527.1 L196.2,526.8 L196.7,527.3 L197.2,526.5 L197.7,527.0 L198.2,526.4 L198.8,526.6 L199.3,526.0 L199.8,526.5 L200.3,526.0 L200.8,526.5 L201.3,525.5 L201.8,526.2 L202.3,525.5 L202.8,526.0 L203.3,525.3 L203.9,525.8 L204.4,524.9 L204.9,525.4 L205.4,524.7 L205.9,524.9 L206.4,525.3 L206.9,524.5 L207.4,524.8 L207.9,524.2 L208.4,524.7 L209.0,524.2 L209.5,524.4 L210.0,524.0 L210.5,524.3 L211.0,524.0 L211.5,523.9 L212.1,524.5 L212.6,524.0 L213.1,524.8 L213.6,524.3 L214.2,525.0 L214.7,524.7 L215.2,525.2 L215.7,525.0 L216.2,525.4 L216.8,525.0 L217.3,525.9 L217.8,525.5 L218.3,526.1 L218.9,525.5 L219.4,526.1 L219.9,526.2 L220.4,525.5 L220.9,526.1 L221.4,525.5 L221.9,526.1 L222.5,525.4 L223.0,525.8 L223.5,525.1 L224.0,525.9 L224.5,525.1 L225.0,525.7 L225.5,524.7 L226.0,525.4 L226.5,524.7 L227.1,525.2 L227.6,524.7 L228.1,524.9 L228.6,524.5 L229.1,525.0 L229.6,524.5 L230.1,524.0 L230.6,524.1 L231.2,523.4 L231.7,523.8 L232.2,522.5 L232.7,523.1 L233.3,522.1 L233.8,522.3 L234.3,521.5 L234.8,521.9 L235.4,521.0 L235.9,521.3 L236.4,520.6 L236.9,520.1 L237.4,520.9 L237.9,519.4 L238.5,520.3 L239.0,519.4 L239.5,520.1 L240.0,518.9 L240.5,519.4 L241.0,518.7 L241.6,519.0 L242.1,518.1 L242.6,518.7 L243.1,518.1 L243.6,518.1 L244.2,519.0 L244.7,518.6 L245.2,519.2 L245.8,519.0 L246.3,519.7 L246.9,519.4 L247.4,519.8 L247.9,519.7 L248.4,518.9 L248.9,519.2 L249.4,518.2 L249.9,518.8 L250.4,517.5 L250.9,518.3 L251.4,516.9 L251.9,517.9 L252.4,516.9 L252.9,516.6 L253.4,517.5 L253.9,516.6 L254.4,517.7 L254.9,517.0 L255.4,518.2 L255.9,517.7 L256.5,518.6 L257.0,517.4 L257.5,518.7 L258.0,517.8 L258.5,519.1 L259.0,518.4 L259.5,519.2 L260.0,518.9 L260.5,518.3 L261.0,519.2 L261.5,517.8 L262.0,518.8 L262.5,517.5 L263.0,518.5 L263.5,517.1 L264.0,518.1 L264.5,517.0 L265.0,517.3 L265.5,516.7 L266.0,517.2 L266.5,516.4 L267.0,517.1 L267.5,515.7 L268.0,516.6 L268.5,515.9 L269.0,515.4 L269.5,516.6 L270.0,515.6 L270.5,516.3 L271.1,515.5 L271.6,516.8 L272.1,515.8 L272.6,516.8 L273.1,515.8 L273.6,516.6 L274.1,515.8 L274.6,516.8 L275.1,516.3 L275.6,516.9 L276.1,516.0 L276.7,517.0 L277.2,516.1 L277.7,517.6 L278.2,516.4 L278.7,516.9 L279.2,516.9 L279.7,515.7 L280.2,516.3 L280.7,514.7 L281.2,515.5 L281.8,514.0 L282.3,514.4 L282.8,513.5 L283.3,513.7 L283.8,513.0 L284.3,512.0 L284.8,512.9 L285.3,511.7 L285.8,512.2 L286.3,511.5 L286.8,511.9 L287.3,510.6 L287.8,511.7 L288.3,510.0 L288.8,510.5 L289.3,511.1 L289.8,510.3 L290.3,511.5 L290.8,510.6 L291.3,511.6 L291.8,510.7 L292.3,512.0 L292.8,510.9 L293.3,512.9 L293.8,512.0 L294.3,512.8 L294.8,512.5 L295.3,510.8 L295.9,511.6 L296.4,509.2 L296.9,509.2 L297.4,507.5 L297.9,508.0 L298.5,505.6 L299.0,505.1 L299.6,505.3 L300.1,503.7 L300.7,504.3 L301.3,501.9 L301.8,502.9 L302.4,502.0 L303.0,501.5 L303.5,503.8 L304.1,503.7 L304.7,501.3 L305.2,502.1 L305.8,499.4 L306.4,499.8 L306.9,496.6 L307.5,496.1 L308.1,497.1 L308.7,497.2 L309.3,498.1 L309.9,504.3 L310.5,509.1 L311.1,508.1 L311.6,508.7 L312.1,507.5 L312.7,507.4 L313.2,508.2 L313.8,507.6 L314.3,509.2 L314.8,508.4 L315.4,509.7 L315.9,508.4 L316.5,509.9 L317.0,509.0 L317.5,510.9 L318.1,509.6 L318.6,510.8 L319.2,511.1 L319.7,510.1 L320.3,510.9 L320.9,509.3 L321.4,510.8 L322.0,510.0 L322.6,509.3 L323.1,510.1 L323.7,509.0 L324.3,509.4 L324.8,508.7 L325.4,508.8 L325.9,509.6 L326.5,508.2 L327.0,509.5 L327.5,508.0 L328.1,508.7 L328.6,507.6 L329.2,508.5 L329.7,507.5 L330.2,508.9 L330.8,506.9 L331.3,507.7 L331.9,507.9 L332.4,505.4 L333.0,506.5 L333.6,503.6 L334.1,504.7 L334.7,503.2 L335.3,501.8 L335.8,502.6 L336.4,500.9 L337.0,502.2 L337.5,500.0 L338.1,500.6 L338.6,501.8 L339.1,500.8 L339.6,501.9 L340.1,500.8 L340.6,502.3 L341.1,501.5 L341.6,499.2 L342.2,499.4 L342.7,497.0 L343.2,496.4 L343.8,497.8 L344.3,495.6 L344.9,497.8 L345.5,496.6 L346.0,498.4 L346.6,498.1 L347.1,496.4 L347.7,497.1 L348.2,495.1 L348.7,495.2 L349.2,493.3 L349.8,494.4 L350.3,491.3 L350.8,491.3 L351.4,494.0 L351.9,494.2 L352.5,499.0 L353.1,499.1 L353.6,502.3 L354.2,504.0 L354.8,503.5 L355.3,504.0 L355.9,503.0 L356.5,503.8 L357.0,502.9 L357.6,503.2 L358.1,502.2 L358.6,499.3 L359.1,499.8 L359.6,496.0 L360.1,495.6 L360.6,495.9 L361.2,493.9 L361.7,495.1 L362.2,493.0 L362.7,493.9 L363.2,492.4 L363.8,492.9 L364.3,491.8 L364.9,490.7 L365.4,492.9 L366.0,492.0 L366.6,494.2 L367.1,492.2 L367.7,493.9 L368.2,495.1 L368.8,494.7 L369.3,496.5 L369.9,495.9 L370.4,498.0 L370.9,496.7 L371.5,499.8 L372.0,499.3 L372.5,496.3 L373.0,495.9 L373.5,493.5 L374.0,493.1 L374.5,490.1 L375.1,489.0 L375.6,491.7 L376.2,490.1 L376.8,491.8 L377.3,491.1 L377.9,492.2 L378.4,493.7 L378.9,491.0 L379.5,493.7 L380.0,491.0 L380.5,493.1 L381.0,492.1 L381.6,493.1 L382.1,491.8 L382.6,493.9 L383.1,491.4 L383.7,494.0 L384.2,491.9 L384.7,493.0 L385.2,493.2 L385.8,490.2 L386.4,491.1 L386.9,488.7 L387.4,489.4 L388.0,487.1 L388.6,486.5 L389.1,488.7 L389.7,485.9 L390.3,487.8 L390.8,486.6 L391.4,487.1 L392.0,486.9 L392.5,484.2 L393.1,485.9 L393.7,483.2 L394.2,483.3 L394.8,482.0 L395.4,480.7 L395.9,482.9 L396.5,480.7 L397.1,482.2 L397.6,480.1 L398.2,481.2 L398.8,481.7 L399.3,480.7 L399.9,482.6 L400.5,480.0 L401.0,483.2 L401.6,482.0 L402.1,478.9 L402.6,480.3 L403.1,477.0 L403.6,477.1 L404.1,474.9 L404.6,474.0 L405.2,478.4 L405.7,477.0 L406.2,479.3 L406.8,478.8 L407.3,482.3 L407.9,480.9 L408.4,482.9 L408.9,483.3 L409.4,480.9 L409.9,483.6 L410.4,480.8 L410.9,481.6 L411.4,480.0 L411.9,481.5 L412.4,478.8 L412.9,480.5 L413.4,479.5 L414.0,478.6 L414.5,482.4 L415.1,480.5 L415.7,483.0 L416.2,481.3 L416.8,483.7 L417.4,483.1 L417.9,479.3 L418.5,480.2 L419.1,477.3 L419.6,478.2 L420.2,475.2 L420.8,473.3 L421.3,475.2 L421.9,471.0 L422.4,472.0 L423.0,470.3 L423.5,469.6 L424.0,471.6 L424.5,469.0 L425.0,472.7 L425.5,470.0 L426.0,471.9 L426.5,470.1 L427.0,473.0 L427.5,471.0 L428.1,469.0 L428.6,468.9 L429.1,466.5 L429.7,465.8 L430.2,466.4 L430.8,462.6 L431.3,466.3 L431.9,463.6 L432.4,459.4 L432.9,461.6 L433.4,454.4 L433.9,455.8 L434.4,451.4 L434.9,450.1 L435.5,453.6 L436.0,449.8 L436.6,453.6 L437.2,453.9 L437.8,449.1 L438.3,449.7 L438.8,444.1 L439.4,442.7 L439.9,445.9 L440.5,445.4 L441.1,448.8 L441.6,450.1 L442.2,447.1 L442.8,447.8 L443.3,441.7 L443.9,442.7 L444.4,439.2 L445.0,430.6 L445.6,430.5 L446.1,424.8 L446.6,426.1 L447.1,433.6 L447.6,433.7 L448.2,428.0 L448.8,430.0 L449.3,424.5 L449.9,422.5 L450.4,427.0 L451.0,425.6 L451.6,432.9 L452.1,432.2 L452.6,423.5 L453.1,419.2 L453.6,409.9 L454.2,402.8 L454.7,404.1 L455.2,397.5 L455.8,396.4 L456.6,381.5 L457.1,391.9 L457.6,390.8 L458.1,400.9 L458.7,403.0 L459.2,402.2 L459.8,405.3 L460.3,405.4 L460.8,392.9 L461.4,390.3 L461.9,380.0 L462.4,374.6 L462.9,381.6 L463.4,373.1 L463.9,376.1 L464.4,367.7 L464.9,371.0 L465.5,370.0 L466.0,360.0 L466.6,361.4 L467.2,353.1 L467.8,354.2 L468.3,362.0 L468.8,362.2 L469.4,366.6 L469.9,362.8 L470.5,346.2 L471.1,346.6 L471.6,335.2 L472.2,342.9 L472.8,361.2 L473.3,370.6 L473.9,385.0 L474.4,376.6 L475.0,357.5 L475.6,355.8 L476.1,339.7 L476.6,341.6 L477.1,350.6 L477.6,353.1 L478.1,338.4 L478.6,332.2 L479.1,317.3 L479.6,318.6 L480.1,331.0 L480.6,335.2 L481.1,316.8 L481.6,310.8 L482.1,292.7 L482.7,296.8 L483.2,313.6 L483.8,314.5 L484.3,326.3 L484.9,315.1 L485.5,297.0 L486.1,285.7 L486.7,286.0 L487.2,277.4 L487.8,280.7 L488.3,275.5 L488.9,275.2 L489.4,268.8 L489.9,254.3 L490.4,245.5 L491.0,240.7 L491.8,206.0 L492.4,206.3 L492.9,204.1 L493.4,211.9 L494.0,222.0 L494.6,252.2 L495.2,276.0 L496.0,194.0 L496.5,191.5 L497.0,193.7 L497.6,196.0 L498.1,188.4 L498.8,205.7 L499.5,232.0 L500.0,219.0 L500.5,196.0 L501.2,212.0 L501.8,178.0 L502.3,170.9 L502.8,166.0 L503.3,159.5 L503.8,159.9 L504.4,160.3 L504.9,160.5 L505.4,161.0 L506.2,188.4 L506.9,192.0 L507.6,190.0 L508.2,261.6 L508.9,215.0 L509.3,226.0 L509.8,227.6 L510.3,233.0 L510.8,226.0 L511.3,290.0 L512.0,226.0 L512.7,210.0 L513.2,209.1 L513.8,199.5 L514.3,199.4 L514.9,210.9 L515.5,215.0 L516.3,209.3 L517.1,245.9 L517.6,254.5 L518.1,271.0 L518.7,311.9 L519.3,344.0 L520.0,320.8 L520.6,305.0 L521.2,291.3 L521.7,274.6 L522.3,285.1 L522.9,304.4 L523.4,306.3 L523.9,300.6 L524.4,306.1 L524.9,303.3 L525.4,289.4 L526.0,285.2 L526.5,273.4 L527.1,283.9 L527.7,300.4 L528.3,309.4 L528.9,323.5 L529.5,333.3 L530.1,330.7 L530.7,339.3 L531.5,333.0 L532.0,333.6 L532.6,327.0 L533.1,327.9 L533.7,355.2 L534.2,369.6 L534.8,395.0 L535.3,385.9 L535.9,369.0 L536.4,362.3 L536.9,370.8 L537.5,367.1 L538.0,377.0 L538.6,384.1 L539.1,385.9 L539.7,394.3 L540.2,386.1 L540.8,365.3 L541.3,357.4 L541.8,360.4 L542.3,353.0 L542.8,354.7 L543.3,349.4 L543.8,349.2 L544.3,346.6 L544.9,335.6 L545.4,336.1 L545.9,348.2 L546.5,348.8 L547.0,362.3 L547.5,358.5 L548.0,345.4 L548.5,346.4 L549.0,335.3 L549.5,331.1 L550.0,340.5 L550.5,336.8 L551.0,348.3 L551.5,348.8 L552.0,357.4 L552.6,350.8 L553.2,335.4 L553.8,329.7 L554.4,317.2 L554.9,322.0 L555.4,331.8 L555.9,334.4 L556.4,346.2 L556.9,349.2 L557.5,339.9 L558.0,339.5 L558.5,331.0 L559.1,328.6 L559.7,316.8 L560.2,314.8 L560.7,317.4 L561.3,314.2 L561.8,319.1 L562.3,313.9 L562.9,322.1 L563.4,319.7 L563.9,315.2 L564.4,314.5 L564.9,307.3 L565.4,309.8 L565.9,303.3 L566.5,293.5 L567.0,292.2 L567.6,284.6 L568.2,285.8 L568.8,294.2 L569.3,290.7 L569.9,298.3 L570.5,299.1 L571.1,294.9 L571.6,300.0 L572.2,291.0 L572.7,294.6 L573.3,287.0 L573.8,290.1 L574.4,285.5 L575.0,284.4 L575.5,297.1 L576.1,293.0 L576.6,300.6 L577.2,298.2 L577.7,307.3 L578.3,308.8 L578.8,305.6 L579.4,309.0 L579.9,299.5 L580.5,304.2 L581.0,295.1 L581.6,300.0 L582.1,293.3 L582.7,295.5 L583.3,305.0 L583.8,307.4 L584.4,316.7 L585.0,318.5 L585.6,312.9 L586.1,319.0 L586.7,310.9 L587.2,313.7 L587.8,305.7 L588.3,309.1 L588.9,304.0 L589.5,303.6 L590.0,306.3 L590.6,314.1 L591.2,314.6 L591.8,323.4 L592.3,324.0 L592.8,313.7 L593.3,313.9 L593.9,302.6 L594.4,307.5 L594.9,298.5 L595.5,299.3 L596.2,305.2 L596.8,306.3 L597.4,294.7 L598.1,297.6 L598.7,285.9 L599.2,287.3 L599.7,295.8 L600.2,294.3 L600.7,305.9 L601.2,303.1 L601.7,312.1 L602.3,311.3 L602.9,299.3 L603.4,301.0 L604.0,290.9 L604.6,290.8 L605.2,285.6 L605.9,273.9 L606.5,269.4 L607.1,282.2 L607.8,281.9 L608.4,294.7 L608.9,288.4 L609.4,276.8 L609.9,273.2 L610.4,262.6 L611.0,265.2 L611.6,276.4 L612.1,278.0 L612.7,287.1 L613.3,290.8 L613.9,297.2 L614.6,316.1 L615.2,321.8 L615.7,313.4 L616.2,310.5 L616.7,295.9 L617.2,292.7 L617.8,307.5 L618.5,315.5 L619.1,333.5 L619.6,343.7 L620.1,347.6 L620.6,362.9 L621.1,368.4 L622.0,347.1 L622.5,344.1 L623.0,350.3 L623.5,345.8 L624.0,349.0 L624.4,376.7 L624.9,387.7 L625.5,389.9 L626.0,403.3 L626.5,408.0 L627.0,428.1 L627.5,451.9 L628.0,435.9 L628.6,416.4 L629.1,433.7 L629.7,454.3 L630.2,469.1 L630.7,488.4 L631.2,480.6 L631.7,469.6 L632.2,464.8 L632.8,452.8 L633.3,446.7 L633.8,437.2 L634.3,441.8 L634.8,450.5 L635.4,455.2 L635.9,462.3 L636.4,456.8 L636.9,447.6 L637.5,443.1 L638.0,432.5 L638.5,428.3 L639.0,420.5 L639.5,421.1 L640.0,427.7 L640.6,427.2 L641.1,433.0 L641.6,433.8 L642.1,427.1 L642.7,428.1 L643.2,423.3 L643.7,425.3 L644.2,421.6 L644.7,415.8 L645.2,418.3 L645.8,411.5 L646.3,416.6 L646.8,407.4 L647.4,411.7 L647.9,404.6 L648.4,403.8 L648.9,413.6 L649.4,413.4 L650.0,425.0 L650.5,424.3 L651.0,434.5 L651.5,439.3 L652.0,433.5 L652.6,436.1 L653.1,429.0 L653.6,428.4 L654.2,420.8 L654.7,420.5 L655.2,422.7 L655.7,419.3 L656.2,425.1 L656.8,421.7 L657.3,426.9 L657.8,426.8 L658.3,418.5 L658.8,418.2 L659.3,407.1 L659.9,404.2 L660.4,393.7 L660.9,390.3 L661.4,393.6 L662.0,391.7 L662.5,395.5 L663.0,393.7 L663.6,400.5 L664.1,397.6 L664.6,395.8 L665.1,404.3 L665.7,400.3 L666.2,406.6 L666.7,403.3 L667.2,405.9 L667.7,415.1 L668.2,416.8 L668.8,427.9 L669.3,433.0 L669.8,430.4 L670.3,435.8 L670.8,431.9 L671.4,437.4 L671.9,433.9 L672.4,435.2 L672.9,433.7 L673.4,423.0 L674.0,422.4 L674.5,412.5 L675.0,412.4 L675.5,405.9 L676.0,400.0 L676.5,405.0 L677.1,398.3 L677.6,398.6 L678.1,404.1 L678.7,400.4 L679.2,406.3 L679.7,403.7 L680.3,410.0 L680.8,411.1 L681.3,403.2 L681.8,403.9 L682.3,394.7 L682.8,393.4 L683.3,395.6 L683.9,385.8 L684.4,390.0 L684.9,382.2 L685.5,383.0 L686.0,379.8 L686.5,384.2 L687.0,392.3 L687.6,393.3 L688.1,401.8 L688.6,400.0 L689.1,390.7 L689.7,393.5 L690.2,383.6 L690.7,382.7 L691.2,376.7 L691.7,377.1 L692.2,385.5 L692.8,387.4 L693.3,392.2 L693.8,391.1 L694.4,384.3 L695.0,384.7 L695.5,377.2 L696.0,379.1 L696.6,372.5 L697.2,372.4 L697.8,380.9 L698.4,379.0 L699.0,385.7 L699.5,384.2 L700.1,375.7 L700.6,377.7 L701.2,366.7 L701.8,366.0 L702.3,360.2 L702.9,357.2 L703.4,360.5 L704.0,355.3 L704.5,358.2 L705.1,374.2 L705.6,377.5 L706.1,373.3 L706.6,376.3 L707.1,371.5 L707.6,374.5 L708.1,369.3 L708.7,363.8 L709.3,367.2 L709.9,358.9 L710.5,360.2 L711.0,364.1 L711.5,357.8 L712.0,367.6 L712.5,362.8 L713.0,366.0 L713.5,373.9 L714.0,371.4 L714.5,379.0 L715.0,376.6 L715.5,382.4 L716.0,379.6 L716.5,371.7 L717.1,372.3 L717.6,363.5 L718.1,367.6 L718.6,377.0 L719.1,374.2 L719.6,384.0 L720.1,382.3 L720.7,375.7 L721.2,374.2 L721.7,373.5 L722.2,363.0 L722.7,365.5 L723.2,353.5 L723.7,353.7 L724.3,356.8 L724.9,354.3 L725.5,360.2 L726.1,359.4 L726.6,363.5 L727.1,374.5 L727.6,371.0 L728.1,384.2 L728.6,385.7 L729.1,375.4 L729.7,371.5 L730.2,357.8 L730.8,347.5 L731.3,348.1 L731.9,338.9 L732.4,337.9 L733.0,347.7 L733.5,347.9 L734.1,353.1 L734.6,363.6 L735.2,369.3 L735.8,362.0 L736.4,359.8 L737.0,350.9 L737.6,347.9 L738.1,354.9 L738.6,350.0 L739.1,361.2 L739.6,355.9 L740.1,362.7 L740.7,359.8 L741.3,349.6 L741.9,350.7 L742.5,343.0 L743.0,343.1 L743.5,354.6 L744.0,353.7 L744.5,363.6 L745.0,364.3 L745.5,363.3 L746.1,373.8 L746.6,375.8 L747.1,366.0 L747.7,366.2 L748.2,357.8 L748.8,354.5 L749.4,358.7 L749.9,355.1 L750.5,366.2 L751.0,359.7 L751.6,366.0 L752.2,369.1 L752.8,363.1 L753.4,370.8 L754.0,369.3 L754.5,369.3 L755.0,377.9 L755.5,371.7 L756.0,380.9 L756.5,379.1 L757.0,378.9 L757.5,390.3 L758.0,386.3 L758.5,396.1 L759.0,395.5 L759.9,401.6 L760.4,399.7 L760.9,407.8 L761.4,405.4 L761.9,418.7 L762.4,436.1 L762.9,437.6 L763.4,432.0 L763.9,434.6 L764.4,431.0 L764.9,431.2 L765.4,440.0 L766.0,443.6 L766.5,450.9 L767.0,456.7 L767.6,456.7 L768.1,460.8 L768.6,458.9 L769.1,455.1 L769.6,455.9 L770.1,450.9 L770.6,452.5 L771.2,457.5 L771.7,459.0 L772.2,462.4 L772.8,462.7 L773.3,460.0 L773.9,463.3 L774.4,459.5 L775.0,463.0 L775.5,460.8 L776.3,473.9 L776.8,477.9 L777.3,484.0 L777.8,486.4 L778.3,493.0 L778.8,496.1 L779.3,490.7 L779.8,489.4 L780.3,483.3 L780.8,481.3 L781.3,475.5 L781.9,475.7 L782.5,481.4 L783.1,481.1 L783.7,483.7 L784.2,483.1 L784.8,480.7 L785.4,480.5 L785.9,477.2 L786.5,479.3 L787.0,476.4 L787.5,477.7 L788.0,483.2 L788.5,483.0 L789.0,487.6 L789.5,489.5 L790.1,484.3 L790.7,480.6 L791.3,473.7 L791.9,470.6 L792.4,470.3 L792.9,467.3 L793.4,468.4 L794.0,465.6 L794.5,465.9 L795.0,462.8 L795.5,464.6 L796.0,461.6 L796.5,468.9 L797.0,479.3 L797.5,485.2 L798.0,495.2 L798.6,498.5 L799.1,499.0 L799.7,502.6 L800.4,495.8 L801.0,487.0 L801.6,489.1 L802.2,492.8 L802.8,493.6 L803.4,496.9 L803.9,498.3 L804.4,496.9 L804.9,498.9 L805.4,497.3 L805.9,498.5 L806.4,493.8 L806.9,486.5 L807.4,483.2 L807.9,475.8 L808.4,472.2 L808.9,470.2 L809.5,466.3 L810.0,464.8 L810.5,459.3 L811.1,461.0 L811.6,455.8 L812.1,455.1 L812.6,456.9 L813.2,453.6 L813.7,457.2 L814.2,453.9 L814.8,456.2 L815.3,453.1 L815.8,454.2 L816.4,459.3 L817.0,458.9 L817.6,465.1 L818.2,465.7 L818.7,463.7 L819.2,464.5 L819.7,460.8 L820.2,463.0 L820.8,459.9 L821.3,461.3 L821.8,457.9 L822.3,457.5 L822.9,462.3 L823.4,461.2 L824.0,465.7 L824.5,468.1 L825.1,465.2 L825.6,468.4 L826.1,466.7 L826.7,469.6 L827.2,469.0 L827.8,468.6 L828.3,472.1 L828.8,475.4 L829.4,475.8 L830.0,480.7 L830.5,482.4 L831.0,486.5 L831.6,488.5 L832.2,484.7 L832.8,485.1 L833.4,480.8 L834.0,479.5 L834.6,484.7 L835.1,486.0 L835.7,490.2 L836.3,487.0 L836.9,480.8 L837.5,479.4 L838.1,473.7 L838.7,475.7 L839.2,482.2 L839.8,484.4 L840.3,481.2 L840.9,480.6 L841.5,476.8 L842.0,476.9 L842.5,471.3 L843.1,470.5 L843.6,470.4 L844.2,466.1 L844.7,466.3 L845.3,461.2 L845.8,462.9 L846.4,458.8 L846.9,459.1 L847.5,453.5 L848.0,454.0 L848.5,456.1 L849.1,455.3 L849.6,458.4 L850.2,456.5 L850.8,461.7 L851.3,460.6 L851.8,457.5 L852.3,456.9 L852.8,452.8 L853.3,452.8 L853.9,447.6 L854.4,448.0 L854.9,443.4 L855.4,442.5 L855.9,440.3 L856.5,432.8 L857.0,432.7 L857.3,432.0 L857.9,409.5 L858.4,414.8 L858.9,412.9 L859.4,419.9 L859.9,418.5 L860.4,417.2 L861.0,419.9 L861.5,414.0 L862.0,420.6 L862.6,414.2 L863.1,416.9 L863.6,416.1 L864.1,409.6 L864.6,410.9 L865.1,403.9 L865.6,402.1 L866.1,403.1 L866.7,398.9 L867.2,400.5 L867.8,409.6 L868.3,414.9 L868.9,425.0 L869.4,418.9 L870.0,403.4 L870.5,397.2 L871.1,397.7 L871.6,389.6 L872.2,390.6 L872.7,403.4 L873.3,410.2 L873.8,421.8 L874.4,409.3 L874.9,388.8 L875.5,375.8 L876.3,362.7 L876.8,362.8 L877.4,350.4 L877.9,351.2 L878.5,351.5 L879.2,346.3 L879.8,334.4 L880.4,329.0" fill="none" stroke="#0ed08b" stroke-width="2.5" stroke-linejoin="round"/>
<g font-family="Liberation Sans" font-size="11" fill="#474747" stroke="#474747" stroke-width="0.12"><text x="42.0" y="620.3" text-anchor="middle">1970</text><text x="191.9" y="620.3" text-anchor="middle">1980</text><text x="343.1" y="620.3" text-anchor="middle">1990</text><text x="493.1" y="620.3" text-anchor="middle">2000</text><text x="644.2" y="620.3" text-anchor="middle">2010</text><text x="794.2" y="620.3" text-anchor="middle">2020</text></g><g font-family="Liberation Sans" font-size="11.6" fill="#383838" stroke="#383838" stroke-width="0.15"><text x="899" y="98.4">700B</text><text x="899" y="161.3">600B</text><text x="899" y="224.2">500B</text><text x="899" y="287.2">400B</text><text x="899" y="350.1">300B</text><text x="899" y="413.0">200B</text><text x="899" y="476.0">100B</text><text x="899" y="601.8">-100B</text></g>
<g transform="translate(814,636)" fill="none" stroke="#151515" stroke-width="1.5" stroke-linejoin="round">
<path d="M9.3 3.95 H23.3 Q24.9 3.95 24.9 5.55 V18.8 Q24.9 20.4 23.3 20.4 H6 Q4.3 20.4 4.65 18.75 L7.5 5.4 Q7.8 3.95 9.3 3.95 Z"/>
<path d="M6.6 9.3 H24.9 M5.5 14.9 H16.6 M10.75 14.9 L9.85 20.4 M17.5 9.3 L15.75 20.4 M22.9 9.3 L21.1 20.4"/>
<path d="M22.9 9.3 L24.9 9.3 L24.9 20.4 L21.1 20.4 Z" fill="#151515"/>
</g>
</svg>
<div class="pow">Powered by</div>
<div class="fis">Fiscal.ai</div>
</body></html>
